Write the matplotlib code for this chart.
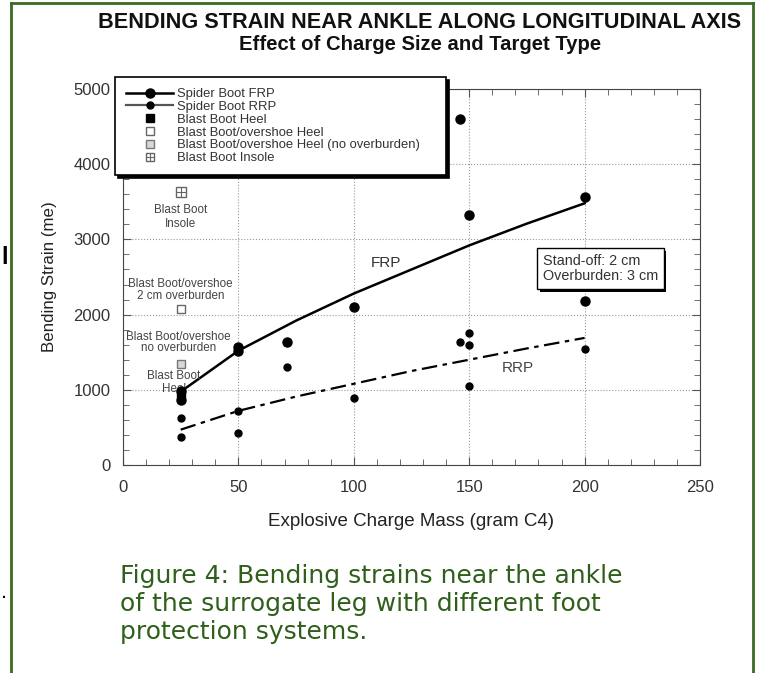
import numpy as np
import matplotlib
matplotlib.use('Agg')
import matplotlib.pyplot as plt
from matplotlib.lines import Line2D
from matplotlib.ticker import MultipleLocator
import matplotlib.patheffects as pe

# Donnees
frp_x = [25, 25, 50, 50, 71, 100, 146, 150, 200, 200]
frp_y = [985, 860, 1575, 1520, 1640, 2105, 4600, 3320, 3560, 2175]
rrp_x = [25, 25, 50, 50, 71, 100, 146, 150, 150, 150, 200]
rrp_y = [625, 375, 720, 425, 1305, 895, 1640, 1760, 1590, 1055, 1545]

# courbes d'ajustement
fit_x = [25, 50, 75, 100, 125, 150, 175, 200]
frp_fit_y = [975, 1520, 1920, 2280, 2600, 2920, 3210, 3480]
rrp_fit_y = [470, 720, 910, 1080, 1250, 1400, 1550, 1690]

# Blast boot (tous a 25 g)
heel_x, heel_y = [25], [950]
overshoe_x, overshoe_y = [25], [2080]
no_ob_x, no_ob_y = [25], [1345]
insole_x, insole_y = [25], [3625]

plt.rcParams['font.family'] = ['Liberation Sans', 'DejaVu Sans']

fig = plt.figure(figsize=(7.6, 6.73), dpi=100)
ax = fig.add_axes([123/760, 1 - 465/673, (700-123)/760, (465-89)/673])

ax.plot(fit_x, frp_fit_y, '-', color='black', lw=1.8, zorder=3)
ax.plot(fit_x, rrp_fit_y, color='black', lw=1.6, dashes=(7, 2.5, 2, 2.5), zorder=3)
ax.plot(frp_x, frp_y, 'o', color='black', ms=6.5, zorder=4)
ax.plot(rrp_x, rrp_y, 'o', color='black', ms=5, zorder=4)
ax.plot(heel_x, heel_y, 's', color='black', ms=6, zorder=4)
ax.plot(overshoe_x, overshoe_y, 's', mfc='white', mec='#666666', ms=6, zorder=4)
ax.plot(no_ob_x, no_ob_y, 's', mfc='#d8d8d8', mec='#777777', ms=6, zorder=4)
ax.plot(insole_x, insole_y, 's', mfc='white', mec='#666666', ms=6.5, zorder=4)
ax.plot(insole_x, insole_y, '+', color='#666666', ms=6.5, mew=0.8, zorder=5)

lab_col = '#444444'
ax.text(25, 3300, 'Blast Boot\nInsole', ha='center', va='center', fontsize=8.4, color=lab_col, linespacing=1.2)
ax.text(25, 2330, 'Blast Boot/overshoe\n2 cm overburden', ha='center', va='center', fontsize=8.4, color=lab_col, linespacing=1.0)
ax.text(24, 1630, 'Blast Boot/overshoe\nno overburden', ha='center', va='center', fontsize=8.4, color=lab_col, linespacing=0.8)
ax.text(22, 1095, 'Blast Boot\nHeel', ha='center', va='center', fontsize=8.4, color=lab_col, linespacing=1.05)
ax.text(114, 2690, 'FRP', ha='center', va='center', fontsize=11, color='#333333')
ax.text(171, 1290, 'RRP', ha='center', va='center', fontsize=11, color='#444444')

t = ax.text(181.8, 2610, 'Stand-off: 2 cm\nOverburden: 3 cm', ha='left', va='center', fontsize=10.4,
            color='#333333', linespacing=1.1,
            bbox=dict(boxstyle='square,pad=0.4', fc='white', ec='black', lw=1))
t.get_bbox_patch().set_path_effects([pe.SimplePatchShadow(offset=(2, -2), shadow_rgbFace='black', alpha=1),
                                     pe.Normal()])

ax.set_xlim(0, 250)
ax.set_ylim(0, 5000)
ax.xaxis.set_major_locator(MultipleLocator(50))
ax.xaxis.set_minor_locator(MultipleLocator(10))
ax.yaxis.set_major_locator(MultipleLocator(1000))
ax.yaxis.set_minor_locator(MultipleLocator(200))
ax.tick_params(which='both', direction='in', top=True, right=True, color='#555555')
ax.tick_params(which='major', length=6, labelsize=12, labelcolor='#333333')
ax.tick_params(which='minor', length=4)
ax.tick_params(axis='x', pad=11)
ax.tick_params(axis='y', pad=9)
ax.grid(True, which='major', ls=':', color='#999999', lw=0.8)
for s in ax.spines.values():
    s.set_color('#444444')

ax.set_xlabel('Explosive Charge Mass (gram C4)', fontsize=13.5, color='#222222', labelpad=13)
ax.set_ylabel('Bending Strain (me)', fontsize=12.2, color='#222222', labelpad=12)

handles = [
    Line2D([], [], color='black', lw=1.8, marker='o', ms=6.5),
    Line2D([], [], color='#555555', lw=1.6, marker='o', ms=5, mfc='black', mec='black'),
    Line2D([], [], ls='none', marker='s', color='black', ms=6),
    Line2D([], [], ls='none', marker='s', mfc='white', mec='#666666', ms=6),
    Line2D([], [], ls='none', marker='s', mfc='#d8d8d8', mec='#777777', ms=6),
    (Line2D([], [], ls='none', marker='s', mfc='white', mec='#666666', ms=6),
     Line2D([], [], ls='none', marker='+', color='#666666', ms=6, mew=0.8)),
]
labels = ['Spider Boot FRP', 'Spider Boot RRP', 'Blast Boot Heel', 'Blast Boot/overshoe Heel',
          'Blast Boot/overshoe Heel (no overburden)', 'Blast Boot Insole']
leg_h = (175 - 77) / 673
leg = ax.legend(handles, labels, loc='upper left',
                bbox_to_anchor=(115/760, 1 - 77/673 - leg_h, (446-115)/760, leg_h),
                bbox_transform=fig.transFigure, mode='expand', borderaxespad=0,
                fontsize=9.4, frameon=True, fancybox=False,
                shadow={'color': 'black', 'alpha': 1}, edgecolor='black', framealpha=1,
                labelspacing=0.05, handlelength=3.6, handletextpad=0.3, borderpad=0.85,
                labelcolor='#333333')
leg.get_frame().set_linewidth(1.2)
leg.set_zorder(10)

# titres
fig.text(420/760, 1 - 22/673, 'BENDING STRAIN NEAR ANKLE ALONG LONGITUDINAL AXIS', ha='center', va='center',
         fontsize=15.6, fontweight='bold', color='#111111')
fig.text(420/760, 1 - 45/673, 'Effect of Charge Size and Target Type', ha='center', va='center',
         fontsize=14.6, fontweight='bold', color='#111111')

# legende de la figure
fig.text(120/760, 1 - 604/673,
         'Figure 4: Bending strains near the ankle\nof the surrogate leg with different foot\nprotection systems.',
         ha='left', va='center', fontsize=18, color='#2f5f1a', family='DejaVu Sans', linespacing=1.2)

# cadre vert
gcol = '#3b6b24'
fig.add_artist(Line2D([11/760, 11/760], [0, 1 - 3/673], color=gcol, lw=2, transform=fig.transFigure))
fig.add_artist(Line2D([11/760, 753/760], [1 - 3/673, 1 - 3/673], color=gcol, lw=2, transform=fig.transFigure))
fig.add_artist(Line2D([753/760, 753/760], [0, 1 - 3/673], color=gcol, lw=2, transform=fig.transFigure))

# restes de texte coupes a gauche
fig.text(1/760, 1 - 258/673, 'l', ha='left', va='center', fontsize=17, color='black', fontweight='bold')
fig.text(1/760, 1 - 592/673, '.', ha='left', va='center', fontsize=16, color='black')

fig.savefig('out.png', dpi=100)
